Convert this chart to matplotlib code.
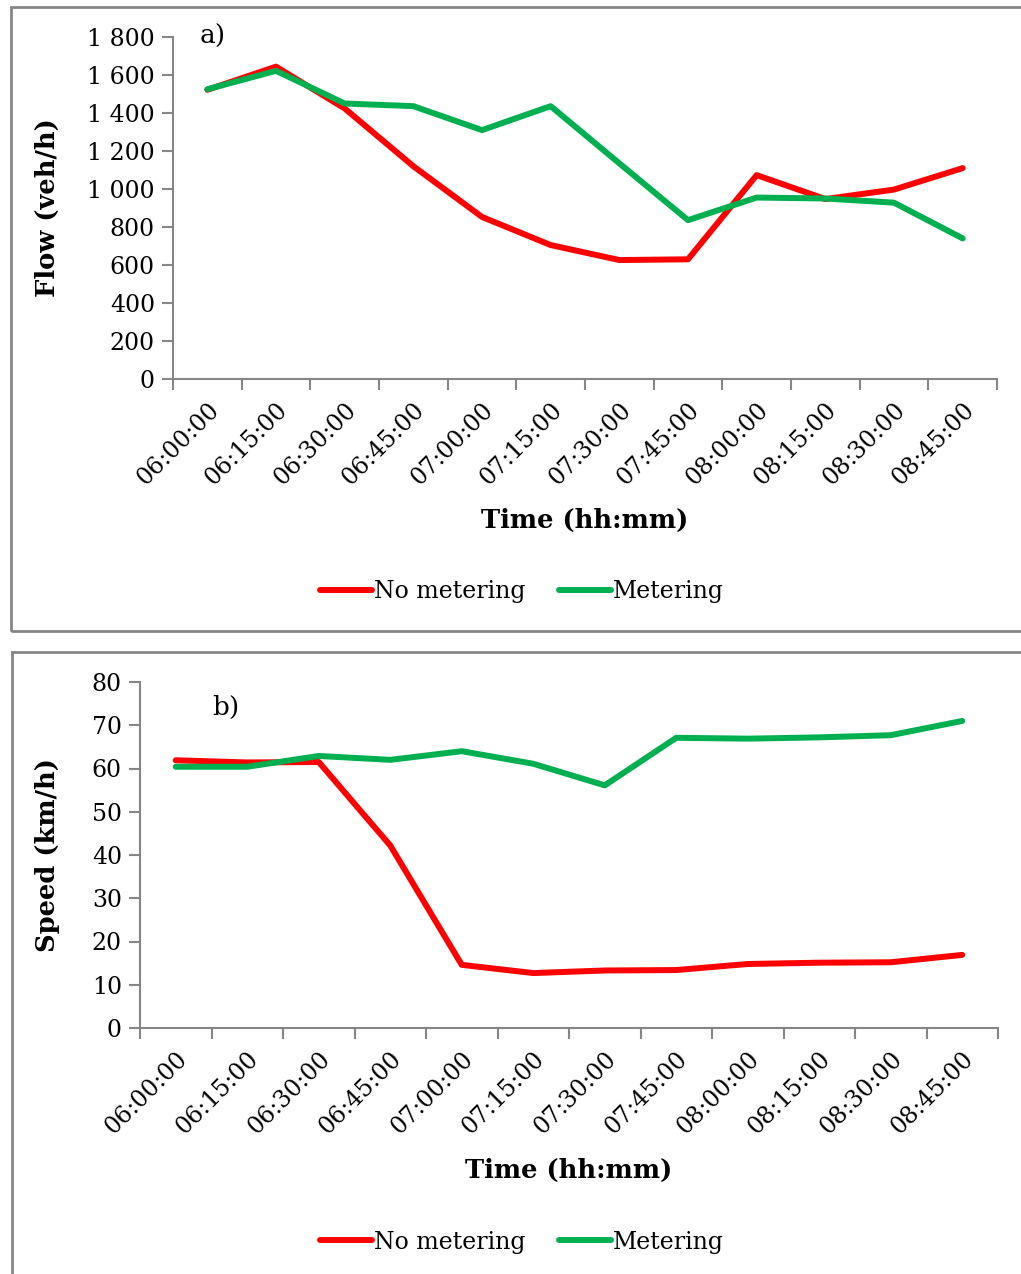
import numpy as np
import matplotlib.pyplot as plt
from matplotlib.patches import Rectangle
from matplotlib.lines import Line2D

times = ["06:00:00", "06:15:00", "06:30:00", "06:45:00", "07:00:00", "07:15:00",
         "07:30:00", "07:45:00", "08:00:00", "08:15:00", "08:30:00", "08:45:00"]

flow_no_metering = [1522, 1644, 1424, 1120, 853, 705, 626, 630, 1073, 947, 997, 1110]
flow_metering = [1525, 1622, 1450, 1436, 1310, 1436, 1135, 836, 955, 950, 928, 740]

speed_no_metering = [61.9, 61.4, 61.5, 42.2, 14.6, 12.7, 13.3, 13.4, 14.8, 15.1, 15.2, 16.9]
speed_metering = [60.4, 60.4, 62.9, 62.0, 64.0, 61.1, 56.1, 67.1, 66.9, 67.2, 67.7, 71.0]

RED = "#ff0000"
GREEN = "#00b050"
GRAY = "#868686"
FONT = "DejaVu Serif"
FS = 17
LW = 4.3

plt.rcParams["font.family"] = FONT

fig = plt.figure(figsize=(10.21, 12.74), dpi=100)
W, H = 1021, 1274


def fx(px):
    return px / W


def fy(py):
    return 1 - py / H


# chart-area frames
fig.patches.append(Rectangle((fx(11), fy(631)), fx(1030 - 11), fy(7) - fy(631),
                             transform=fig.transFigure, fill=False,
                             edgecolor=GRAY, linewidth=2))
fig.patches.append(Rectangle((fx(12), fy(1290)), fx(1030 - 12), fy(652) - fy(1290),
                             transform=fig.transFigure, fill=False,
                             edgecolor=GRAY, linewidth=2))


def style_axis(ax, ylabel, ymax, ystep, fmt):
    x = np.arange(len(times)) + 0.5
    ax.set_xlim(0, len(times))
    ax.set_ylim(0, ymax)
    for side in ("top", "right"):
        ax.spines[side].set_visible(False)
    for side in ("left", "bottom"):
        ax.spines[side].set_color(GRAY)
        ax.spines[side].set_linewidth(1.5)
    ax.set_xticks(x)
    ax.set_xticklabels(times, rotation=45, ha="right", va="top",
                       rotation_mode="anchor", fontsize=FS)
    ax.set_xticks(np.arange(len(times) + 1), minor=True)
    ax.tick_params(axis="x", which="major", length=0, pad=14)
    ax.tick_params(axis="x", which="minor", length=8, width=1.5, color=GRAY)
    yt = np.arange(0, ymax + ystep / 2, ystep)
    ax.set_yticks(yt)
    ax.set_yticklabels([fmt(v) for v in yt], fontsize=FS)
    ax.tick_params(axis="y", length=8, width=1.5, color=GRAY, pad=5)
    ax.set_ylabel(ylabel, fontsize=FS + 1.5, fontweight="bold")
    ax.set_xlabel("Time (hh:mm)", fontsize=FS + 1.5, fontweight="bold")
    return x


def thousands(v):
    return f"{int(v):,}".replace(",", " ")


# a) flow
ax1 = fig.add_axes([fx(173), fy(379), fx(997 - 173), fy(37) - fy(379)])
x = style_axis(ax1, "Flow (veh/h)", 1800, 200, thousands)
ax1.plot(x, flow_no_metering, color=RED, lw=LW, solid_capstyle="round",
         solid_joinstyle="round", label="No metering")
ax1.plot(x, flow_metering, color=GREEN, lw=LW, solid_capstyle="round",
         solid_joinstyle="round", label="Metering")
ax1.yaxis.set_label_coords(fx(60 - 173) / fx(997 - 173), 0.5)
ax1.xaxis.set_label_coords(0.5, -(508 - 379) / (379 - 37))
fig.text(fx(200), fy(36), "a)", fontsize=FS + 2, va="center", ha="left")

# b) speed
ax2 = fig.add_axes([fx(140), fy(1028), fx(998 - 140), fy(682) - fy(1028)])
x = style_axis(ax2, "Speed (km/h)", 80, 10, lambda v: f"{int(v)}")
ax2.plot(x, speed_no_metering, color=RED, lw=LW, solid_capstyle="round",
         solid_joinstyle="round", label="No metering")
ax2.plot(x, speed_metering, color=GREEN, lw=LW, solid_capstyle="round",
         solid_joinstyle="round", label="Metering")
ax2.yaxis.set_label_coords(fx(60 - 140) / fx(998 - 140), 0.5)
ax2.xaxis.set_label_coords(0.5, -(1158 - 1028) / (1028 - 682))
fig.text(fx(212), fy(707), "b)", fontsize=FS + 2, va="center", ha="left")

handles = [Line2D([], [], color=RED, lw=LW, solid_capstyle="round"),
           Line2D([], [], color=GREEN, lw=LW, solid_capstyle="round")]
labels = ["No metering", "Metering"]
for cy in (592, 1242):
    fig.legend(handles, labels, loc="center", bbox_to_anchor=(fx(522), fy(cy)),
               ncol=2, frameon=False, fontsize=FS, handlelength=2.2,
               handletextpad=0.1, columnspacing=1.4)

fig.savefig("out.png", dpi=100)
